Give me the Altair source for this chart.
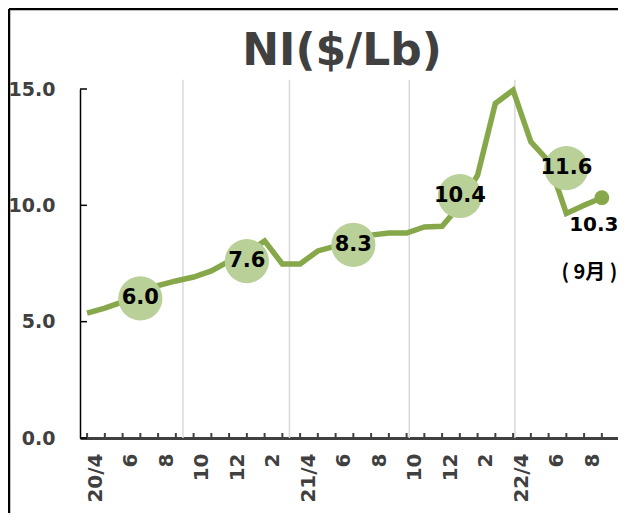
import altair as alt
import pandas as pd

# Monthly NI price ($/Lb), Apr 2020 (index 0) .. Sep 2022 (index 29)
month_idx = list(range(30))
ni_price = [5.37, 5.58, 5.85, 6.1, 6.55, 6.75, 6.92, 7.18, 7.6, 7.95,
            8.47, 7.48, 7.48, 8.04, 8.25, 8.5, 8.72, 8.81, 8.81, 9.07,
            9.1, 10.0, 11.3, 14.38, 14.95, 12.73, 11.9, 9.65, 10.0, 10.33]

# x-axis tick labels (every 2 months)
label_pos = list(range(0, 29, 2))
tick_labels = ["20/4", "6", "8", "10", "12", "2", "21/4", "6", "8",
               "10", "12", "2", "22/4", "6", "8"]

# minor x ticks (every month)
minor_ticks = list(range(0, 30))

# highlighted bubbles
bubble_idx = [3, 9, 15, 21, 27]
bubble_val = [6.0, 7.6, 8.3, 10.4, 11.6]
bubble_txt = ["6.0", "7.6", "8.3", "10.4", "11.6"]

# vertical grid lines
grid_idx = [5.4, 11.4, 18.15, 24.1]
grid_top = [15.4, 15.4, 15.4, 15.4]

# y ticks
y_ticks = [0, 5, 10, 15]

# end annotations
last_idx = [28.55]
last_val = [9.15]
last_txt = ["10.3"]
month_idx_note = [28.3]
month_val_note = [7.1]
month_txt_note = ["( 9月 )"]

LINE = "#86a84a"
BUBBLE = "#b9d098"
GRAY = "#404040"
W, H = 538, 349

df = pd.DataFrame({"m": month_idx, "v": ni_price})
bub = pd.DataFrame({"m": bubble_idx, "v": bubble_val, "t": bubble_txt})
grid = pd.DataFrame({"m": grid_idx, "v": grid_top})
mt = pd.DataFrame({"m": minor_ticks})
yt = pd.DataFrame({"v": y_ticks})
end = df.tail(1)
ann1 = pd.DataFrame({"m": last_idx, "v": last_val, "t": last_txt})
ann2 = pd.DataFrame({"m": month_idx_note, "v": month_val_note, "t": month_txt_note})

xs = alt.Scale(domain=[-0.4, -0.4 + W / 17.75], nice=False, zero=False)
ys = alt.Scale(domain=[0, 15], nice=False)

label_expr = "[" + ",".join("'%s'" % t for t in tick_labels) + "][datum.value/2]"

x_axis = alt.Axis(values=label_pos, labelExpr=label_expr, labelAngle=-90,
                  labelFont="DejaVu Sans", labelFontWeight="bold", labelFontSize=20,
                  labelColor=GRAY, labelPadding=15, labelOffset=8,
                  ticks=False, tickSize=0, grid=False, domainColor=GRAY,
                  domainWidth=3, title=None, labelOverlap=False)
y_axis = alt.Axis(values=y_ticks, format=".1f", labelFont="DejaVu Sans",
                  labelFontWeight="bold", labelFontSize=19, labelColor=GRAY,
                  labelPadding=25, ticks=False, tickSize=0, grid=False,
                  domainColor="black", domainWidth=1.5, title=None)

X = alt.X("m:Q", scale=xs, axis=x_axis)
Y = alt.Y("v:Q", scale=ys, axis=y_axis)

gridlines = alt.Chart(grid).mark_rule(color="#d9d9d9", strokeWidth=1.5).encode(
    x=X, y=Y, y2=alt.datum(0),
)

line = alt.Chart(df).mark_line(color=LINE, strokeWidth=5.5).encode(x=X, y=Y)

xticks = alt.Chart(mt).mark_rule(color=GRAY, strokeWidth=2).encode(
    x=X, y=alt.value(H), y2=alt.value(H - 5),
)

yticks = alt.Chart(yt).mark_rule(color="black", strokeWidth=1.5).encode(
    y=Y, x=alt.value(0), x2=alt.value(7),
)

bubbles = alt.Chart(bub).mark_circle(color=BUBBLE, opacity=1, size=1950).encode(
    x=X, y=Y,
)

bubble_text = alt.Chart(bub).mark_text(font="DejaVu Sans", fontWeight="bold",
                                       fontSize=21, color="black",
                                       baseline="middle").encode(
    x=X, y=Y, text="t:N",
)

end_dot = alt.Chart(end).mark_circle(color=LINE, opacity=1, size=220).encode(
    x=X, y=Y,
)

ann_text1 = alt.Chart(ann1).mark_text(font="DejaVu Sans", fontWeight="bold",
                                      fontSize=20, color="black",
                                      baseline="middle").encode(
    x=X, y=Y, text="t:N",
)

ann_text2 = alt.Chart(ann2).mark_text(font="Noto Sans CJK JP", fontWeight="bold",
                                      fontSize=20, color="black",
                                      baseline="middle").encode(
    x=X, y=Y, text="t:N",
)

title = alt.Chart(df.head(1)).mark_text(text="NI($/Lb)", font="DejaVu Sans",
                                        fontWeight="bold", fontSize=44,
                                        color=GRAY, baseline="middle").encode(
    x=alt.value(262), y=alt.value(-37)
)

top_border = alt.Chart(df.head(1)).mark_rule(color="black", strokeWidth=2.5).encode(
    x=alt.value(-71), x2=alt.value(W), y=alt.value(-80)
)
left_border = alt.Chart(df.head(1)).mark_rule(color="black", strokeWidth=2.5).encode(
    x=alt.value(-71), y=alt.value(-80), y2=alt.value(H + 75)
)

chart = alt.layer(
    gridlines, line, xticks, yticks, bubbles, bubble_text, end_dot, ann_text1,
    ann_text2, title, top_border, left_border
).properties(
    width=W, height=H,
    autosize=alt.AutoSizeParams(type="none"),
    padding={"left": 72, "top": 81, "right": 0, "bottom": 75},
).configure_view(stroke=None)

chart.save("out.html", embed_options={"renderer": "svg", "actions": False})
